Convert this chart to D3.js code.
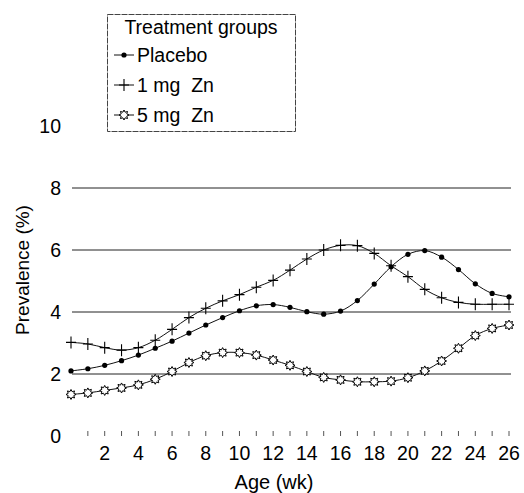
<!DOCTYPE html>
<html>
<head>
<meta charset="utf-8">
<script src="https://cdn.jsdelivr.net/npm/d3@7"></script>
<style>
  body { margin: 0; background: #fff; }
  svg { display: block; font-family: "Liberation Sans", Arial, sans-serif; }
</style>
</head>
<body>
<svg id="chart" width="524" height="493"></svg>
<script>
// data, weeks 0..26
var weeks = d3.range(0, 27);
var placebo = [2.10, 2.17, 2.28, 2.43, 2.61, 2.83, 3.06, 3.32, 3.58, 3.82, 4.04, 4.20, 4.24, 4.15,
               4.01, 3.93, 4.03, 4.37, 4.90, 5.46, 5.86, 5.98, 5.77, 5.37, 4.91, 4.60, 4.49];
var zn1 = [3.02, 2.97, 2.85, 2.77, 2.85, 3.09, 3.44, 3.82, 4.12, 4.36, 4.56, 4.80, 5.02, 5.35,
           5.71, 6.00, 6.15, 6.14, 5.89, 5.49, 5.14, 4.73, 4.46, 4.31, 4.25, 4.25, 4.25];
var zn5 = [1.34, 1.39, 1.47, 1.55, 1.65, 1.83, 2.08, 2.37, 2.59, 2.69, 2.69, 2.61, 2.45, 2.28,
           2.08, 1.89, 1.81, 1.75, 1.75, 1.77, 1.88, 2.10, 2.42, 2.83, 3.24, 3.47, 3.58];
var groupNames = ["Placebo", "1 mg  Zn", "5 mg  Zn"];
var yTicks = [0, 2, 4, 6, 8, 10];
var gridTicks = [2, 4, 6, 8];
var xTickMarks = d3.range(1, 27);
var xTickLabels = d3.range(2, 27, 2);

var svg = d3.select("svg#chart");
var fs = 19.5;

var x = d3.scaleLinear().domain([0, 26]).range([71, 509]);
var y = d3.scaleLinear().domain([0, 10]).range([436, 126]);

// gridlines
svg.selectAll("line.grid")
  .data(gridTicks)
  .enter().append("line")
  .attr("class", "grid")
  .attr("x1", 72).attr("x2", 511)
  .attr("y1", function(d) { return y(d); })
  .attr("y2", function(d) { return y(d); })
  .attr("stroke", "#222").attr("stroke-width", 1);

// y tick labels
svg.selectAll("text.ytick")
  .data(yTicks)
  .enter().append("text")
  .attr("class", "ytick")
  .attr("x", 61)
  .attr("y", function(d) { return y(d); })
  .attr("dy", "0.35em")
  .attr("text-anchor", "end")
  .attr("font-size", fs)
  .text(function(d) { return d; });

// x tick marks (no axis line)
svg.selectAll("line.xtick")
  .data(xTickMarks)
  .enter().append("line")
  .attr("class", "xtick")
  .attr("x1", function(d) { return x(d); })
  .attr("x2", function(d) { return x(d); })
  .attr("y1", 431).attr("y2", 436)
  .attr("stroke", "#555").attr("stroke-width", 1);

svg.selectAll("text.xtick")
  .data(xTickLabels)
  .enter().append("text")
  .attr("class", "xtick")
  .attr("x", function(d) { return x(d); })
  .attr("y", 453)
  .attr("dy", "0.35em")
  .attr("text-anchor", "middle")
  .attr("font-size", fs)
  .text(function(d) { return d; });

svg.append("text")
  .attr("x", 274).attr("y", 482).attr("dy", "0.35em")
  .attr("text-anchor", "middle").attr("font-size", 20)
  .text("Age (wk)");

svg.append("text")
  .attr("transform", "translate(22,270) rotate(-90)")
  .attr("dy", "0.35em")
  .attr("text-anchor", "middle").attr("font-size", 19)
  .text("Prevalence (%)");

// markers
var starPath = (function() {
  var pts = [];
  for (var i = 0; i < 16; i++) {
    var r = i % 2 === 0 ? 5 : 3;
    var a = i * Math.PI / 8 - Math.PI / 2;
    pts.push([r * Math.cos(a), r * Math.sin(a)]);
  }
  return "M" + pts.map(function(p) { return p[0].toFixed(2) + "," + p[1].toFixed(2); }).join("L") + "Z";
})();

function drawMarker(g, kind) {
  if (kind === 0) {
    g.append("circle").attr("r", 2.6).attr("fill", "#000");
  } else if (kind === 1) {
    g.append("path").attr("d", "M-5,0H5M0,-6V6")
      .attr("stroke", "#000").attr("stroke-width", 1.1).attr("fill", "none");
  } else {
    g.append("path").attr("d", starPath)
      .attr("stroke", "#000").attr("stroke-width", 1).attr("fill", "#fff");
  }
}

var line = d3.line()
  .x(function(d) { return x(d[0]); })
  .y(function(d) { return y(d[1]); })
  .curve(d3.curveCatmullRom.alpha(0.5));

var series = [placebo, zn1, zn5];
series.forEach(function(vals, k) {
  var pts = weeks.map(function(w, i) { return [w, vals[i]]; });
  svg.append("path")
    .datum(pts)
    .attr("d", line)
    .attr("fill", "none")
    .attr("stroke", "#111")
    .attr("stroke-width", 1);
  svg.selectAll("g.m" + k)
    .data(pts)
    .enter().append("g")
    .attr("class", "m" + k)
    .attr("transform", function(d) { return "translate(" + x(d[0]) + "," + y(d[1]) + ")"; })
    .each(function() { drawMarker(d3.select(this), k); });
});

// legend
var legend = svg.append("g").attr("class", "legend");
legend.append("rect")
  .attr("x", 107.5).attr("y", 14.5).attr("width", 188).attr("height", 117)
  .attr("fill", "#fff").attr("stroke", "#444").attr("stroke-width", 1)
  .attr("stroke-dasharray", "6,1");
legend.append("text")
  .attr("x", 201).attr("y", 27).attr("dy", "0.35em")
  .attr("text-anchor", "middle").attr("font-size", fs)
  .text("Treatment groups");

var items = legend.selectAll("g.item")
  .data(groupNames)
  .enter().append("g")
  .attr("class", "item")
  .attr("transform", function(d, i) { return "translate(0," + (55 + i * 30) + ")"; });

items.append("line")
  .attr("x1", 114).attr("x2", 134).attr("y1", 0).attr("y2", 0)
  .attr("stroke", "#111").attr("stroke-width", 1);
items.append("g")
  .attr("transform", "translate(124,0)")
  .each(function(d, i) { drawMarker(d3.select(this), i); });
items.append("text")
  .attr("x", 137).attr("y", 0).attr("dy", "0.35em")
  .attr("font-size", fs)
  .style("white-space", "pre")
  .text(function(d) { return d; });
</script>
</body>
</html>
